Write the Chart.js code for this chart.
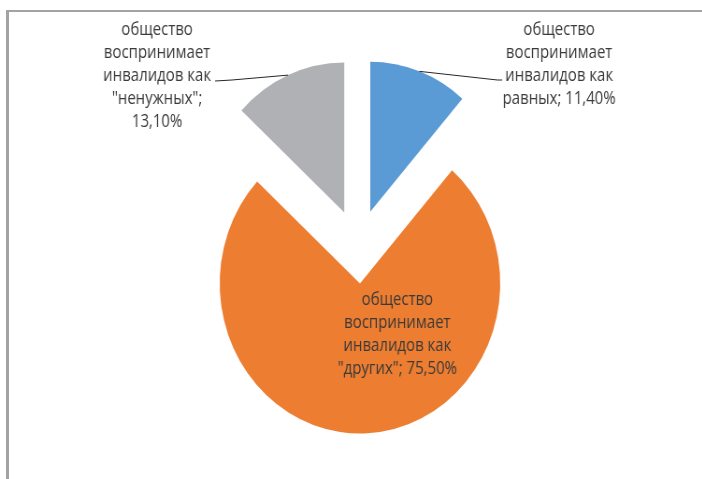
<!DOCTYPE html>
<html>
<head>
<meta charset="utf-8">
<script src="https://cdn.jsdelivr.net/npm/chart.js@4.4.0/dist/chart.umd.min.js"></script>
<style>
  html, body { margin: 0; padding: 0; background: #fff; overflow: hidden; }
  #frame {
    position: absolute; left: 6px; top: 10px; width: 720px; height: 480px;
    border-top: 2px solid #a3a3a3; border-left: 3px solid #a3a3a3;
  }
  #wrap {
    position: absolute; left: 0; top: 0; width: 751px; height: 479px;
    transform: scaleX(0.935); transform-origin: 0 0;
  }
</style>
</head>
<body>
<div id="frame"></div>
<div id="wrap"><canvas id="pieChart" width="751" height="479"></canvas></div>
<script>
// ========================== DATA ==========================
const categories = [
  "общество воспринимает инвалидов как равных",
  "общество воспринимает инвалидов как \"других\"",
  "общество воспринимает инвалидов как \"ненужных\""
];
const shares = [11.4, 75.5, 13.1];
const colors = ["#5b9bd5", "#ed7d31", "#b0b1b4"];

// ========================== LAYOUT ==========================
const EXPLODE = 37;
// label anchor (canvas units), wrap width, leader line start
const labelBox = [
  { x: 598, y: 30, w: 135, leader: [[537, 80], [532, 80]] },
  { x: 425, y: 300, w: 140, leader: null },
  { x: 168, y: 30, w: 125, leader: [[230, 81], [248, 80]] }
];
const FONT = "16px 'Open Sans'";
const LINE_H = 23;
const TEXT_SY = 1.13;   // reference text is drawn taller than wide

function fmt(v) {
  return v.toFixed(2).replace(".", ",") + "%";
}

function wrap(ctx, text, maxW) {
  const words = text.split(" ");
  const lines = [];
  let cur = "";
  words.forEach(w => {
    const t = cur ? cur + " " + w : w;
    if (cur && ctx.measureText(t).width > maxW) {
      lines.push(cur);
      cur = w;
    } else {
      cur = t;
    }
  });
  if (cur) lines.push(cur);
  return lines;
}

// ========================== PLUGINS ==========================
// draw slices pulled out along their middle angle (Excel style explosion)
const explodePlugin = {
  id: "explode",
  beforeDatasetsDraw(chart) {
    const ctx = chart.ctx;
    chart.getDatasetMeta(0).data.forEach(arc => {
      const mid = (arc.startAngle + arc.endAngle) / 2;
      ctx.save();
      ctx.translate(Math.cos(mid) * EXPLODE, Math.sin(mid) * EXPLODE);
      arc.draw(ctx);
      ctx.restore();
    });
    return false;
  }
};

const labelPlugin = {
  id: "pieLabels",
  afterDraw(chart) {
    const ctx = chart.ctx;
    ctx.save();
    ctx.font = FONT;
    ctx.fillStyle = "#3a3a3a";
    ctx.textAlign = "center";
    ctx.textBaseline = "middle";
    chart.getDatasetMeta(0).data.forEach((arc, i) => {
      const box = labelBox[i];
      const lines = wrap(ctx, categories[i] + "; " + fmt(shares[i]), box.w);
      lines.forEach((ln, k) => {
        ctx.save();
        ctx.translate(box.x, box.y + k * LINE_H);
        ctx.scale(1, TEXT_SY);
        ctx.fillText(ln, 0, 0);
        ctx.restore();
      });

      if (box.leader) {
        const mid = (arc.startAngle + arc.endAngle) / 2;
        const r = arc.outerRadius + EXPLODE;
        const px = arc.x + Math.cos(mid) * r;
        const py = arc.y + Math.sin(mid) * r;
        ctx.beginPath();
        ctx.strokeStyle = "#262626";
        ctx.lineWidth = 1;
        ctx.moveTo(box.leader[0][0], box.leader[0][1]);
        ctx.lineTo(box.leader[1][0], box.leader[1][1]);
        ctx.lineTo(px, py);
        ctx.stroke();
      }
    });
    ctx.restore();
  }
};

// ========================== CHART ==========================
new Chart(document.getElementById("pieChart"), {
  type: "pie",
  data: {
    labels: categories,
    datasets: [{
      data: shares,
      backgroundColor: colors,
      borderWidth: 0
    }]
  },
  options: {
    responsive: false,
    animation: false,
    radius: 150,
    layout: { padding: { left: 15, top: 14, right: 0, bottom: 0 } },
    plugins: {
      legend: { display: false },
      tooltip: { enabled: false }
    }
  },
  plugins: [explodePlugin, labelPlugin]
});
</script>
</body>
</html>
